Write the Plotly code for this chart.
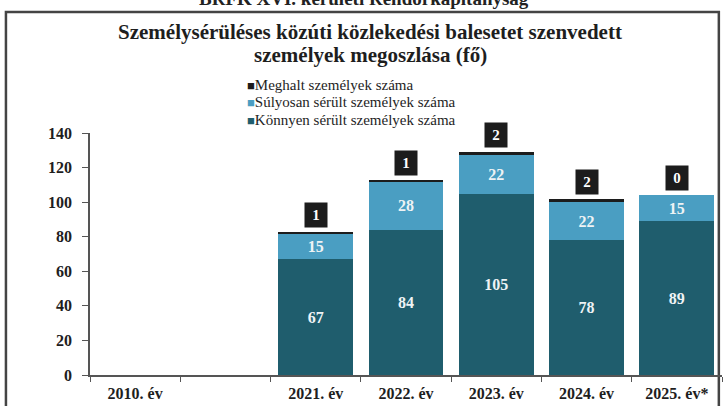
import plotly.graph_objects as go

# Categories on the x axis (one blank slot between 2010 and 2021)
years = ["2010. év", " ", "2021. év", "2022. év", "2023. év", "2024. év", "2025. év*"]

# Persons injured / killed per year
konnyen = [None, None, 67, 84, 105, 78, 89]   # slightly injured
sulyosan = [None, None, 15, 28, 22, 22, 15]   # seriously injured
meghalt = [None, None, 1, 1, 2, 2, 0]         # killed

series_names = ["Meghalt személyek száma",
                "Súlyosan sérült személyek száma",
                "Könnyen sérült személyek száma"]

title_lines = ["Személysérüléses közúti közlekedési balesetet szenvedett",
               "személyek megoszlása (fő)"]
heading = "BRFK XVI. kerületi Rendőrkapitányság"

SERIF = "Liberation Serif, Times New Roman, serif"
DARK = "#1f5d6d"
LIGHT = "#4a9ec2"
BLACK = "#1c1c1c"
INK = "#1e1e1e"

def labels(vals):
    return ["" if v is None else "<b>%d</b>" % v for v in vals]

fig = go.Figure()
fig.add_trace(go.Bar(
    x=years, y=konnyen, name=series_names[2],
    marker=dict(color=DARK, line=dict(width=0)),
    text=labels(konnyen), textposition="inside", insidetextanchor="middle",
    textfont=dict(family=SERIF, size=16, color="#eef3f5"),
    textangle=0,
))
fig.add_trace(go.Bar(
    x=years, y=sulyosan, name=series_names[1],
    marker=dict(color=LIGHT, line=dict(width=0)),
    text=labels(sulyosan), textposition="inside", insidetextanchor="middle",
    textfont=dict(family=SERIF, size=16, color="#eef3f5"),
    textangle=0,
))
fig.add_trace(go.Bar(
    x=years, y=meghalt, name=series_names[0],
    marker=dict(color=BLACK, line=dict(width=0)),
    textposition="none",
))

# Killed counts shown in black boxes above each stack
for cat, a, b, c in zip(years, konnyen, sulyosan, meghalt):
    if c is None:
        continue
    total = a + b + c
    fig.add_annotation(
        x=cat, y=total, xref="x", yref="y", yanchor="bottom", yshift=4,
        text="<b>%d</b>" % c, showarrow=False,
        font=dict(family=SERIF, size=15, color="white"),
        bgcolor=BLACK, borderpad=4, width=14,
    )

# Compact legend rows, top to bottom
legend_colors = [BLACK, LIGHT, DARK]
for i, (nm, col) in enumerate(zip(series_names, legend_colors)):
    fig.add_annotation(
        x=0.245, y=1, xref="paper", yref="paper", xanchor="left", yanchor="middle",
        yshift=48.5 - 17.5 * i, showarrow=False,
        text='<span style="color:%s;font-size:13px">■</span>%s' % (col, nm),
        font=dict(family=SERIF, size=15, color=INK),
    )

# Heading above the frame, running off the top edge
fig.add_annotation(
    x=0.5, y=1, xref="paper", yref="paper", xanchor="center", yanchor="middle",
    yshift=135, xshift=-42,
    text="<b>%s</b>" % heading, showarrow=False,
    font=dict(family=SERIF, size=19, color="#222"),
)

# Chart title, two lines
for i, line in enumerate(title_lines):
    fig.add_annotation(
        x=0.5, y=1, xref="paper", yref="paper", xanchor="center", yanchor="middle",
        yshift=101 - 23 * i, xshift=-36,
        text="<b>%s</b>" % line, showarrow=False,
        font=dict(family=SERIF, size=21, color=INK),
    )

# Outer frame
fig.add_shape(type="rect", xref="paper", yref="paper",
              x0=-0.133, x1=0.995, y0=-0.2, y1=1.5,
              line=dict(color="#444", width=2.5), layer="below")

fig.update_layout(
    width=726, height=406,
    margin=dict(l=90, r=4, t=133, b=29),
    paper_bgcolor="white", plot_bgcolor="white",
    barmode="stack", bargap=0.17,
    showlegend=False,
    font=dict(family=SERIF, color=INK),
)

fig.update_xaxes(
    type="category", categoryorder="array", categoryarray=years,
    tickvals=years, ticktext=["<b>%s</b>" % y for y in years],
    showline=True, linecolor="#555", linewidth=1.5,
    ticks="outside", tickson="boundaries", ticklen=5, tickcolor="#555",
    tickfont=dict(family=SERIF, size=16, color=INK),
    ticklabelstandoff=3,
    showgrid=False,
)
fig.update_yaxes(
    range=[0, 140], dtick=20,
    showline=True, linecolor="#555", linewidth=1.5,
    ticks="outside", ticklen=6, tickcolor="#555",
    tickfont=dict(family=SERIF, size=16, color=INK),
    tickprefix="<b>", ticksuffix="</b>",
    ticklabelstandoff=7,
    showgrid=False, zeroline=False,
)

fig.write_html("out.html")
